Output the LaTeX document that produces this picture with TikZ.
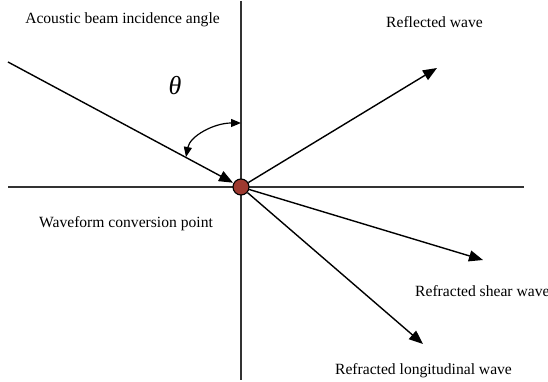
\documentclass[tikz,border=0pt]{standalone}
\usepackage{fontspec}
\setmainfont{Liberation Serif}
\usetikzlibrary{arrows.meta}
\definecolor{pointred}{RGB}{158,58,48}
\definecolor{axisgray}{RGB}{50,50,50}
\tikzset{
  axisline/.style={draw=axisgray, line width=1.4pt},
  wave/.style={draw=black, line width=1.4pt, -{Triangle[length=14pt,width=11pt]}},
  anglearc/.style={draw=black, line width=1.2pt, {Triangle[length=10pt,width=8pt]}-{Triangle[length=10pt,width=8pt]}},
  lbl/.style={font=\fontsize{15.6}{18}\selectfont, inner sep=0pt},
  convpt/.style={circle, draw=black, fill=pointred, line width=1.1pt, minimum size=16pt, inner sep=0pt}
}
\begin{document}
\begin{tikzpicture}[x=1pt,y=-1pt]
\useasboundingbox (0,0) rectangle (548,382);
\fill[white] (0,0) rectangle (548,382);
% axes
\coordinate (vtop) at (241,1);
\coordinate (vbot) at (241,380);
\coordinate (hleft) at (8,187);
\coordinate (hright) at (524,187);
\draw[axisline] (vtop) -- (vbot);
\draw[axisline] (hleft) -- (hright);
% conversion point
\node[convpt] (P) at (241,187) {};
% incident and outgoing waves
\coordinate (inc) at (8,62);
\coordinate (refl) at (437,68);
\coordinate (shear) at (483,260);
\coordinate (long) at (423,344);
\draw[wave, shorten >=0.5pt] (inc) -- (P);
\draw[wave] (P) -- (refl);
\draw[wave] (P) -- (shear);
\draw[wave] (P) -- (long);
% angle arc
\coordinate (a1) at (186,157);
\coordinate (a2) at (241,123);
\draw[anglearc] (a1) .. controls (190,136) and (214,123) .. (a2);
\node[inner sep=0pt, font=\fontsize{26}{30}\selectfont\itshape] (theta) at (175,86) {θ};
% labels
\node[lbl] (tinc) at (122.5,20) {Acoustic beam incidence angle};
\node[lbl] (trefl) at (434.5,22) {Reflected wave};
\node[lbl] (tconv) at (126,224) {Waveform conversion point};
\node[lbl, anchor=west] (tshear) at (415,291) {Refracted shear wave};
\node[lbl] (tlong) at (423.5,371) {Refracted longitudinal wave};
\end{tikzpicture}
\end{document}
